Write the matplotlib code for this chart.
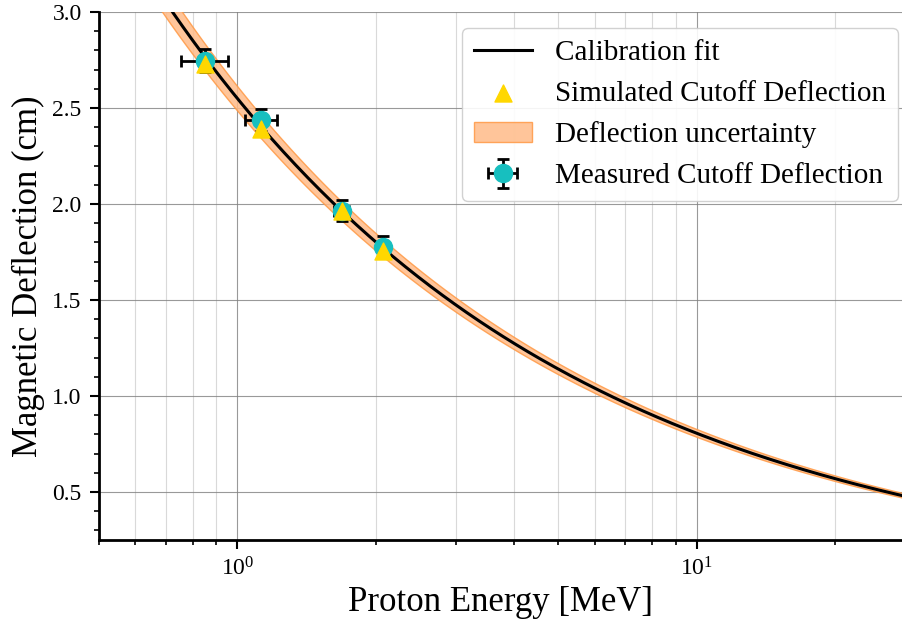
import numpy as np
import matplotlib
matplotlib.use("Agg")
import matplotlib.pyplot as plt
from matplotlib.ticker import MultipleLocator, LogLocator, NullFormatter

plt.rcParams['font.family'] = ['Liberation Serif', 'DejaVu Serif']
plt.rcParams['mathtext.fontset'] = 'stix'

# Measured cutoff deflection
meas_E = [0.851, 1.128, 1.687, 2.08]
meas_D = [2.745, 2.437, 1.964, 1.776]
meas_E_lo = [0.096, 0.087, 0.06, 0.05]
meas_E_hi = [0.105, 0.094, 0.06, 0.05]
meas_D_err = [0.06, 0.055, 0.055, 0.055]

# Simulated cutoff deflection
sim_E = [0.851, 1.128, 1.687, 2.08]
sim_D = [2.73, 2.39, 1.965, 1.755]

# Calibration fit parameters D = A * E^p
fit_A = 2.55
fit_p = -0.5
fit_rel_unc = 0.025

xlim = (0.5, 28)
ylim = (0.25, 3.0)

fig = plt.figure(figsize=(9.02, 6.28), dpi=100)
ax = fig.add_axes([0.1098, 0.140, 0.8902, 0.841])

E = np.logspace(np.log10(0.3), np.log10(40), 400)
D = fit_A * E ** fit_p

h_fill = ax.fill_between(E, D * (1 - fit_rel_unc), D * (1 + fit_rel_unc),
                         color='#ffbb88', alpha=0.85, edgecolor='#ff9944', lw=1,
                         label='Deflection uncertainty', zorder=2)
h_line, = ax.plot(E, D, color='black', lw=2.2, label='Calibration fit', zorder=3)
h_err = ax.errorbar(meas_E, meas_D, xerr=[meas_E_lo, meas_E_hi], yerr=meas_D_err,
                    fmt='o', color='#17bfbf', ms=13, ecolor='black', elinewidth=2,
                    capsize=4, capthick=2, label='Measured Cutoff Deflection', zorder=4)
h_sc = ax.scatter(sim_E, sim_D, marker='^', s=150, color='#ffd700', zorder=5,
                  label='Simulated Cutoff Deflection')

ax.set_xscale('log')
ax.set_xlim(*xlim)
ax.set_ylim(*ylim)
ax.yaxis.set_major_locator(MultipleLocator(0.5))
ax.yaxis.set_minor_locator(MultipleLocator(0.1))
ax.xaxis.set_minor_locator(LogLocator(base=10, subs=np.arange(2, 10)))
ax.xaxis.set_minor_formatter(NullFormatter())

ax.grid(True, which='major', color='0.5', lw=0.8, alpha=0.8)
ax.grid(True, which='minor', axis='x', color='0.85', lw=0.8)

for s in ['top', 'right']:
    ax.spines[s].set_visible(False)
for s in ['left', 'bottom']:
    ax.spines[s].set_linewidth(2)

ax.tick_params(which='major', length=6.5, width=1.5, labelsize=17, direction='out', pad=6)
ax.tick_params(which='minor', length=3.6, width=1.2, direction='out')

ax.set_xlabel('Proton Energy [MeV]', fontsize=25)
ax.set_ylabel('Magnetic Deflection (cm)', fontsize=25, labelpad=5)

ax.legend([h_line, h_sc, h_fill, h_err],
          ['Calibration fit', 'Simulated Cutoff Deflection', 'Deflection uncertainty',
           'Measured Cutoff Deflection'],
          loc='upper right', bbox_to_anchor=(0.995, 0.97), borderaxespad=0,
          fontsize=21, framealpha=0.9, edgecolor='0.8')

fig.savefig('out.png', dpi=100)
